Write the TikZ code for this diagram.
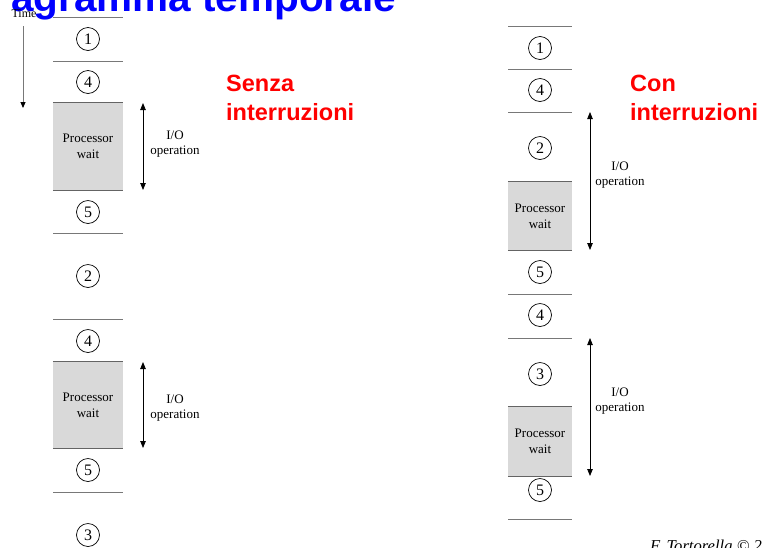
\documentclass[tikz,border=0pt]{standalone}
\usepackage{fontspec}
\setmainfont{Liberation Serif}
\newfontfamily\arialfont{Liberation Sans}
\usetikzlibrary{arrows.meta}
\definecolor{linegray}{RGB}{120,120,120}
\definecolor{boxgray}{RGB}{217,217,217}
\definecolor{boxline}{RGB}{100,100,100}
\definecolor{titleblue}{RGB}{0,0,255}
\definecolor{labelred}{RGB}{255,0,0}
\begin{document}
\begin{tikzpicture}[x=1pt,y=-1pt,
  sepline/.style={draw=linegray, line width=1pt},
  boxedge/.style={draw=boxline, line width=1pt},
  waitbox/.style={fill=boxgray, draw=none, minimum width=70pt, inner sep=0pt, align=center, font=\fontsize{13}{16}\selectfont},
  stepnum/.style={circle, draw=black, line width=0.7pt, minimum size=23pt, inner sep=0pt, font=\fontsize{16}{16}\selectfont},
  iolabel/.style={align=center, inner sep=0pt, font=\fontsize{13}{15}\selectfont},
  ioarrow/.style={{Triangle[length=7pt,width=5.5pt]}-{Triangle[length=7pt,width=5.5pt]}, line width=0.8pt},
  redlabel/.style={anchor=base west, text=labelred, inner sep=0pt, font=\arialfont\bfseries\fontsize{23.5}{28}\selectfont}
]
\useasboundingbox (0,0) rectangle (763,547);
\clip (0,0) rectangle (763,547);

% title (clipped at top)
\node[anchor=base west, inner sep=0pt, text=titleblue, font=\arialfont\bfseries\fontsize{40.5}{44}\selectfont] (title) at (11,11) {agramma temporale};

% time arrow
\node[inner sep=0pt, font=\fontsize{12}{12}\selectfont] (time) at (24,14) {Time};
\coordinate (t0) at (23,26);
\coordinate (t1) at (23,108);
\draw[draw=linegray, line width=1pt, -{Triangle[length=6pt,width=5pt,color=black]}] (t0) -- (t1);

% ---------- left column ----------
\foreach \y in {17,61,233,319,492} \draw[sepline] (53,\y) -- (123,\y);
\node[waitbox, minimum height=87pt] (lw1) at (88,146.5) {Processor\\wait};
\node[waitbox, minimum height=86pt] (lw2) at (88,405) {Processor\\wait};
\draw[boxedge] (lw1.north west) -- (lw1.north east);
\draw[boxedge] (lw1.south west) -- (lw1.south east);
\draw[boxedge] (lw2.north west) -- (lw2.north east);
\draw[boxedge] (lw2.south west) -- (lw2.south east);
\node[stepnum] (l1) at (88,39) {1};
\node[stepnum] (l4a) at (88,82) {4};
\node[stepnum] (l5a) at (88,212) {5};
\node[stepnum] (l2) at (88,276) {2};
\node[stepnum] (l4b) at (88,341) {4};
\node[stepnum] (l5b) at (88,470) {5};
\node[stepnum] (l3) at (88,535) {3};
\coordinate (la1) at (143,103);
\coordinate (lb1) at (143,190);
\coordinate (la2) at (143,362);
\coordinate (lb2) at (143,448);
\draw[ioarrow] (la1) -- (lb1);
\draw[ioarrow] (la2) -- (lb2);
\node[iolabel] (lio1) at (175,144.5) {I/O\\operation};
\node[iolabel] (lio2) at (175,408) {I/O\\operation};
\node[redlabel] (senza) at (226,91) {Senza};
\node[redlabel] (senzaint) at (226,120) {interruzioni};

% ---------- right column ----------
\foreach \y in {26,69,112,294,338,519} \draw[sepline] (508,\y) -- (572,\y);
\node[waitbox, minimum width=64pt, minimum height=68pt] (rw1) at (540,216) {Processor\\wait};
\node[waitbox, minimum width=64pt, minimum height=69pt] (rw2) at (540,441.5) {Processor\\wait};
\draw[boxedge] (rw1.north west) -- (rw1.north east);
\draw[boxedge] (rw1.south west) -- (rw1.south east);
\draw[boxedge] (rw2.north west) -- (rw2.north east);
\draw[boxedge] (rw2.south west) -- (rw2.south east);
\node[stepnum] (r1) at (540,48) {1};
\node[stepnum] (r4a) at (540,90) {4};
\node[stepnum] (r2) at (540,148) {2};
\node[stepnum] (r5a) at (540,272) {5};
\node[stepnum] (r4b) at (540,315) {4};
\node[stepnum] (r3) at (540,374) {3};
\node[stepnum] (r5b) at (540,490) {5};
\coordinate (ra1) at (590,112);
\coordinate (rb1) at (590,250);
\coordinate (ra2) at (590,338);
\coordinate (rb2) at (590,476);
\draw[ioarrow] (ra1) -- (rb1);
\draw[ioarrow] (ra2) -- (rb2);
\node[iolabel] (rio1) at (620,175) {I/O\\operation};
\node[iolabel] (rio2) at (620,401.5) {I/O\\operation};
\node[redlabel] (con) at (630,91) {Con};
\node[redlabel] (conint) at (630,120) {interruzioni};

% footer (clipped)
\node[anchor=base west, inner sep=0pt, font=\itshape\fontsize{16.6}{18}\selectfont] (footer) at (650,551) {F. Tortorella © 2};
\end{tikzpicture}
\end{document}
